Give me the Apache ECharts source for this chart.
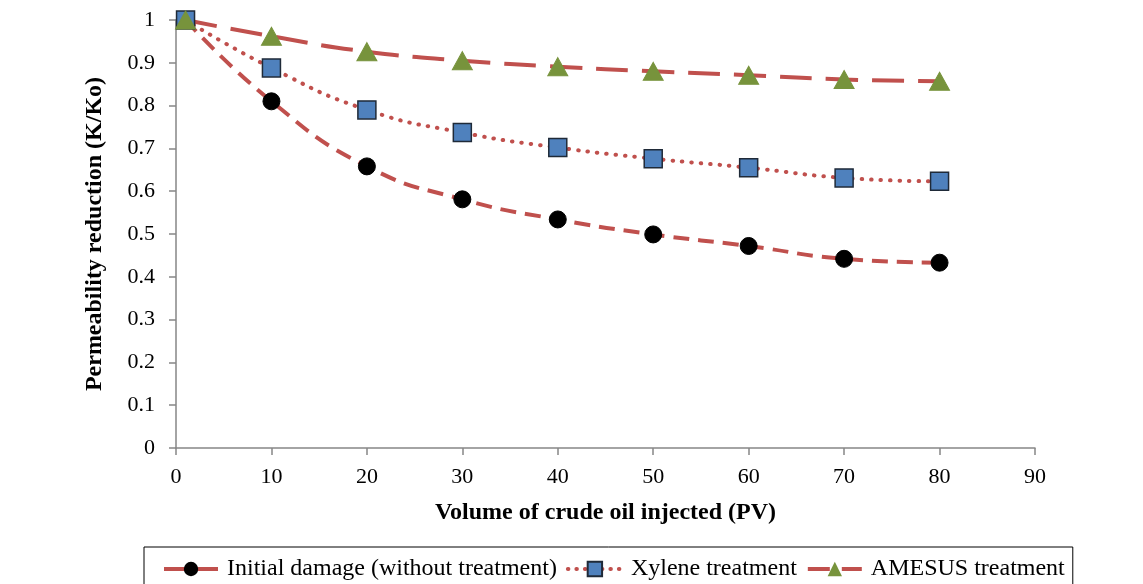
<!DOCTYPE html>
<html>
<head>
<meta charset="utf-8">
<script src="https://cdn.jsdelivr.net/npm/echarts@6/dist/echarts.min.js"></script>
<style>html,body{margin:0;padding:0;background:#fff}#c{width:1143px;height:584px}</style>
</head>
<body>
<div id="c"></div>
<script>
var volumes = [1, 10, 20, 30, 40, 50, 60, 70, 80];
var initialDamage = [1.0, 0.81, 0.658, 0.581, 0.534, 0.499, 0.472, 0.442, 0.433];
var xylene = [1.0, 0.888, 0.79, 0.737, 0.702, 0.676, 0.655, 0.631, 0.623];
var amesus = [1.0, 0.962, 0.926, 0.905, 0.891, 0.88, 0.871, 0.861, 0.857];
var seriesNames = ['Initial damage (without treatment)', 'Xylene treatment', 'AMESUS treatment'];

function pairs(ys) { return volumes.map(function (x, i) { return [x, ys[i]]; }); }

var font = 'Liberation Serif';
var red = '#c0504d';
var chart = echarts.init(document.getElementById('c'));
chart.setOption({
  animation: false,
  backgroundColor: '#fff',
  grid: { left: 176, top: 20, width: 859, height: 428 },
  xAxis: {
    type: 'value', min: 0, max: 90, interval: 10,
    name: 'Volume of crude oil injected (PV)', nameLocation: 'middle', nameGap: 53,
    nameTextStyle: { fontFamily: font, fontSize: 24, fontWeight: 'bold', color: '#000' },
    axisLine: { lineStyle: { color: '#868686', width: 1.5 } },
    axisTick: { show: true, length: 7, lineStyle: { color: '#868686', width: 1.5 } },
    axisLabel: { fontFamily: font, fontSize: 22, color: '#000', margin: 18 },
    splitLine: { show: false }
  },
  yAxis: {
    type: 'value', min: 0, max: 1, interval: 0.1,
    name: 'Permeability reduction (K/Ko)', nameLocation: 'middle', nameGap: 69,
    nameTextStyle: { fontFamily: font, fontSize: 24, fontWeight: 'bold', color: '#000' },
    axisLine: { show: true, lineStyle: { color: '#868686', width: 1.5 } },
    axisTick: { show: true, length: 7, lineStyle: { color: '#868686', width: 1.5 } },
    axisLabel: { fontFamily: font, fontSize: 22, color: '#000', margin: 21 },
    splitLine: { show: false }
  },
  legend: {
    left: 144, top: 547,
    padding: [10, 8, 12, 18],
    borderColor: '#000', borderWidth: 1,
    itemWidth: 54, itemHeight: 18, itemGap: 9,
    textStyle: { fontFamily: font, fontSize: 24, color: '#000', padding: [0, 0, 0, 4] },
    data: [
      { name: seriesNames[0], lineStyle: { width: 4, type: 'solid' } },
      { name: seriesNames[1], lineStyle: { width: 4, type: [0.5, 8], cap: 'round' } },
      { name: seriesNames[2], lineStyle: { width: 4, type: [22, 12] } }
    ]
  },
  series: [
    {
      name: seriesNames[0], type: 'line', smooth: true, data: pairs(initialDamage),
      symbol: 'circle', symbolSize: 17,
      itemStyle: { color: '#000', borderColor: '#000' },
      lineStyle: { color: red, width: 4, type: [16, 9] }
    },
    {
      name: seriesNames[1], type: 'line', smooth: true, data: pairs(xylene),
      symbol: 'rect', symbolSize: 18,
      itemStyle: { color: '#4f81bd', borderColor: '#1f2a38', borderWidth: 1.5 },
      lineStyle: { color: red, width: 4, type: [0.5, 9], cap: 'round' }
    },
    {
      name: seriesNames[2], type: 'line', smooth: true, data: pairs(amesus),
      symbol: 'triangle', symbolSize: [20, 18],
      itemStyle: { color: '#77933c', borderColor: '#77933c' },
      lineStyle: { color: red, width: 4, type: [32, 14] }
    }
  ]
});
</script>
</body>
</html>
